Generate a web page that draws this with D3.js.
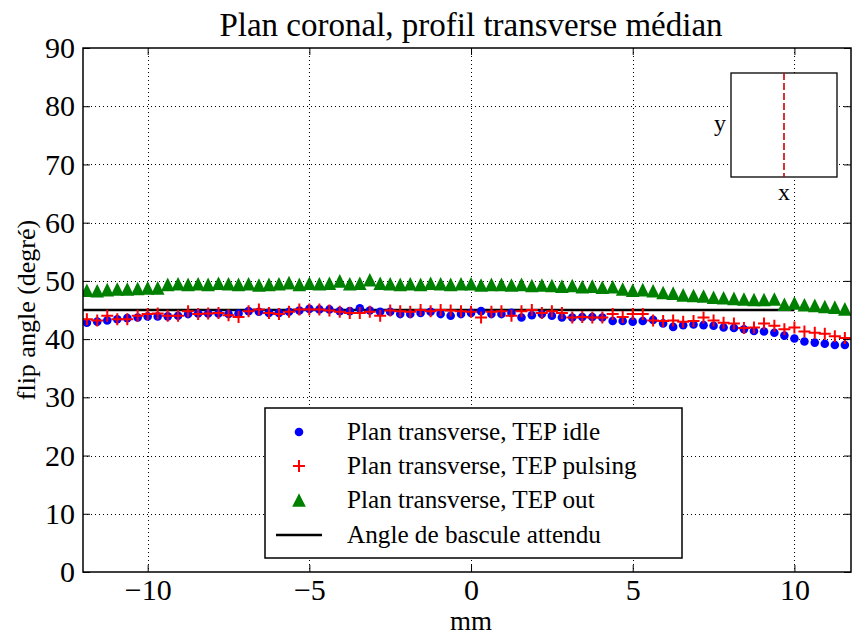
<!DOCTYPE html>
<html>
<head>
<meta charset="utf-8">
<script src="https://cdn.jsdelivr.net/npm/d3@7"></script>
<style>
  html, body { margin: 0; padding: 0; background: #fff; }
  svg { display: block; }
  text { font-family: "Liberation Serif", "DejaVu Serif", serif; fill: #000; }
</style>
</head>
<body>
<div id="chart"></div>
<script>
// ---- data ----
const xPositions = [
  -11.88, -11.56, -11.25, -10.94, -10.63, -10.31, -10.00, -9.69, -9.38, -9.06,
  -8.75, -8.44, -8.13, -7.81, -7.50, -7.19, -6.88, -6.56, -6.25, -5.94,
  -5.63, -5.31, -5.00, -4.69, -4.38, -4.06, -3.75, -3.44, -3.13, -2.81,
  -2.50, -2.19, -1.88, -1.56, -1.25, -0.94, -0.63, -0.31, 0.00, 0.31,
  0.63, 0.94, 1.25, 1.56, 1.88, 2.19, 2.50, 2.81, 3.13, 3.44,
  3.75, 4.06, 4.38, 4.69, 5.00, 5.31, 5.63, 5.94, 6.25, 6.56,
  6.88, 7.19, 7.50, 7.81, 8.13, 8.44, 8.75, 9.06, 9.38, 9.69,
  10.00, 10.31, 10.63, 10.94, 11.25, 11.56
];
const tepIdle = [
  42.8, 43.0, 43.2, 43.4, 43.6, 43.7, 43.9, 43.9, 43.9, 44.0,
  44.3, 44.4, 44.4, 44.4, 44.3, 44.4, 44.8, 44.7, 44.5, 44.5,
  44.7, 44.9, 45.2, 45.1, 45.1, 44.8, 44.8, 45.3, 44.9, 44.7,
  44.7, 44.3, 44.3, 44.5, 44.7, 44.3, 44.0, 44.3, 44.5, 44.8,
  44.3, 44.3, 44.5, 43.7, 44.1, 44.3, 44.0, 43.7, 43.7, 43.8,
  43.8, 43.7, 43.1, 43.1, 43.0, 43.1, 43.3, 42.7, 42.1, 42.4,
  42.5, 42.4, 42.3, 42.0, 41.9, 41.7, 41.4, 41.3, 41.1, 40.6,
  40.1, 39.6, 39.4, 39.2, 39.0, 39.0
];
const tepPulsing = [
  43.4, 43.2, 44.0, 43.4, 43.4, 44.0, 44.3, 44.4, 44.0, 44.0,
  44.8, 44.3, 44.4, 44.5, 44.1, 43.8, 44.8, 45.1, 44.5, 44.3,
  44.7, 45.1, 45.1, 45.1, 44.9, 44.7, 44.5, 44.5, 44.7, 44.0,
  44.9, 44.8, 44.7, 45.0, 44.8, 45.0, 44.9, 44.8, 44.7, 43.7,
  44.7, 44.8, 44.0, 44.8, 45.0, 44.5, 44.8, 44.5, 43.7, 43.8,
  43.7, 43.7, 44.3, 43.8, 44.3, 44.3, 43.2, 43.1, 43.2, 43.0,
  43.1, 43.7, 43.2, 42.8, 42.7, 41.9, 42.0, 42.7, 42.3, 41.7,
  42.0, 41.3, 41.1, 40.9, 40.5, 40.2
];
const tepOut = [
  48.4, 48.3, 48.5, 48.6, 48.6, 48.7, 48.8, 48.8, 49.4, 49.5,
  49.4, 49.5, 49.4, 49.6, 49.5, 49.4, 49.5, 49.3, 49.4, 49.5,
  49.7, 49.4, 49.6, 49.5, 49.6, 50.0, 49.5, 49.6, 50.2, 49.6,
  49.5, 49.4, 49.5, 49.4, 49.6, 49.5, 49.4, 49.5, 49.5, 49.3,
  49.4, 49.4, 49.3, 49.4, 49.2, 49.3, 49.2, 49.1, 49.2, 49.0,
  49.1, 48.9, 49.0, 48.6, 48.4, 48.5, 48.3, 48.0, 47.9, 47.6,
  47.5, 47.4, 47.2, 47.1, 47.0, 46.9, 46.8, 46.8, 46.9, 46.0,
  46.2, 45.9, 45.8, 45.6, 45.5, 45.2
];
const expectedX = [-12, 10];
const expectedY = [45, 45];
const xTicks = [-10, -5, 0, 5, 10];
const yTicks = [0, 10, 20, 30, 40, 50, 60, 70, 80, 90];
const legendLabels = [
  "Plan transverse, TEP idle",
  "Plan transverse, TEP pulsing",
  "Plan transverse, TEP out",
  "Angle de bascule attendu"
];
const titleText = "Plan coronal, profil transverse médian";
const xLabel = "mm";
const yLabel = "flip angle (degré)";

// ---- layout ----
const W = 853, H = 636;
const plot = { left: 83, right: 851, top: 48, bottom: 572 };

const svg = d3.select("#chart").append("svg").attr("width", W).attr("height", H);

const x = d3.scaleLinear().domain([-12, 11.75]).range([plot.left, plot.right]);
const y = d3.scaleLinear().domain([0, 90]).range([plot.bottom, plot.top]);

const fmt = d => (d < 0 ? "\u2212" + Math.abs(d) : String(d));

// clip
svg.append("defs").append("clipPath").attr("id", "clip")
  .append("rect").attr("x", plot.left).attr("y", plot.top)
  .attr("width", plot.right - plot.left).attr("height", plot.bottom - plot.top);

// grid
const grid = svg.append("g").attr("stroke", "#000").attr("stroke-width", 1)
  .attr("stroke-dasharray", "1,3");
xTicks.forEach(t => grid.append("line")
  .attr("x1", Math.round(x(t)) + 0.5).attr("x2", Math.round(x(t)) + 0.5)
  .attr("y1", plot.top).attr("y2", plot.bottom));
yTicks.filter(t => t > 0 && t < 90).forEach(t => grid.append("line")
  .attr("y1", Math.round(y(t)) + 0.5).attr("y2", Math.round(y(t)) + 0.5)
  .attr("x1", plot.left).attr("x2", plot.right));

const data = svg.append("g").attr("clip-path", "url(#clip)");

// expected line
data.append("path")
  .datum(expectedX.map((v, i) => [v, expectedY[i]]))
  .attr("d", d3.line().x(d => x(d[0])).y(d => y(d[1])))
  .attr("fill", "none").attr("stroke", "#000").attr("stroke-width", 2.5);

const idleData = xPositions.map((v, i) => [v, tepIdle[i]]);
const pulsData = xPositions.map((v, i) => [v, tepPulsing[i]]);
const outData = xPositions.map((v, i) => [v, tepOut[i]]);

data.append("g").selectAll("circle").data(idleData).join("circle")
  .attr("cx", d => x(d[0])).attr("cy", d => y(d[1])).attr("r", 4.3)
  .attr("fill", "#0000ff");

const crossPath = "M-6,0H6M0,-6V6";
data.append("g").selectAll("path").data(pulsData).join("path")
  .attr("transform", d => `translate(${x(d[0])},${y(d[1])})`)
  .attr("d", crossPath).attr("stroke", "#ff0000").attr("stroke-width", 2).attr("fill", "none");

const triPath = "M0,-6.8L6.8,6.8L-6.8,6.8Z";
data.append("g").selectAll("path").data(outData).join("path")
  .attr("transform", d => `translate(${x(d[0])},${y(d[1])})`)
  .attr("d", triPath).attr("fill", "#008000");

// axes (ticks inward on all sides)
const tickFont = "30px";
const gx = svg.append("g").attr("transform", `translate(0,${plot.bottom})`)
  .call(d3.axisBottom(x).tickValues(xTicks).tickFormat(fmt).tickSize(-7).tickPadding(8));
const gy = svg.append("g").attr("transform", `translate(${plot.left},0)`)
  .call(d3.axisLeft(y).tickValues(yTicks).tickFormat(fmt).tickSize(-7).tickPadding(8));
const gxt = svg.append("g").attr("transform", `translate(0,${plot.top})`)
  .call(d3.axisTop(x).tickValues(xTicks).tickFormat("").tickSize(-7));
const gyr = svg.append("g").attr("transform", `translate(${plot.right},0)`)
  .call(d3.axisRight(y).tickValues(yTicks).tickFormat("").tickSize(-7));
[gx, gy, gxt, gyr].forEach(g => {
  g.select(".domain").remove();
  g.selectAll(".tick line").attr("stroke", "#000").attr("stroke-width", 1);
  g.selectAll(".tick text").attr("font-family", "Liberation Serif").attr("font-size", tickFont).attr("fill", "#000");
});
gx.selectAll(".tick text").attr("dy", "0.68em");

// frame
svg.append("rect").attr("x", plot.left).attr("y", plot.top)
  .attr("width", plot.right - plot.left).attr("height", plot.bottom - plot.top)
  .attr("fill", "none").attr("stroke", "#000").attr("stroke-width", 1.5);

// title & labels
svg.append("text").attr("x", (plot.left + plot.right) / 2 + 4).attr("y", 36)
  .attr("text-anchor", "middle").attr("font-size", 33).text(titleText);
svg.append("text").attr("x", (plot.left + plot.right) / 2 + 4).attr("y", 630)
  .attr("text-anchor", "middle").attr("font-size", 27).text(xLabel);
svg.append("text").attr("transform", `translate(35,${(plot.top + plot.bottom) / 2}) rotate(-90)`)
  .attr("text-anchor", "middle").attr("font-size", 26).text(yLabel);

// legend
const lg = svg.append("g");
lg.append("rect").attr("x", 265).attr("y", 408).attr("width", 417).attr("height", 150)
  .attr("fill", "#fff").attr("stroke", "#000").attr("stroke-width", 1.5);
const rowsY = [432, 466, 500, 535];
lg.append("circle").attr("cx", 299).attr("cy", rowsY[0]).attr("r", 4.3).attr("fill", "#0000ff");
lg.append("path").attr("transform", `translate(299,${rowsY[1]})`).attr("d", crossPath)
  .attr("stroke", "#ff0000").attr("stroke-width", 2);
lg.append("path").attr("transform", `translate(299,${rowsY[2]})`).attr("d", triPath).attr("fill", "#008000");
lg.append("line").attr("x1", 276).attr("x2", 322).attr("y1", rowsY[3]).attr("y2", rowsY[3])
  .attr("stroke", "#000").attr("stroke-width", 2.5);
legendLabels.forEach((t, i) => lg.append("text").attr("x", 347).attr("y", rowsY[i] + 8)
  .attr("font-size", 25.2).text(t));

// inset (slice position sketch)
const ins = svg.append("g");
ins.append("rect").attr("x", 731).attr("y", 73).attr("width", 106).attr("height", 104)
  .attr("fill", "#fff").attr("stroke", "#000").attr("stroke-width", 1.3);
ins.append("line").attr("x1", 784).attr("x2", 784).attr("y1", 73).attr("y2", 177)
  .attr("stroke", "#cc0000").attr("stroke-width", 1.6).attr("stroke-dasharray", "7,3");
ins.append("text").attr("x", 720).attr("y", 131).attr("text-anchor", "middle").attr("font-size", 24).text("y");
ins.append("text").attr("x", 784).attr("y", 200).attr("text-anchor", "middle").attr("font-size", 24).text("x");
</script>
</body>
</html>
